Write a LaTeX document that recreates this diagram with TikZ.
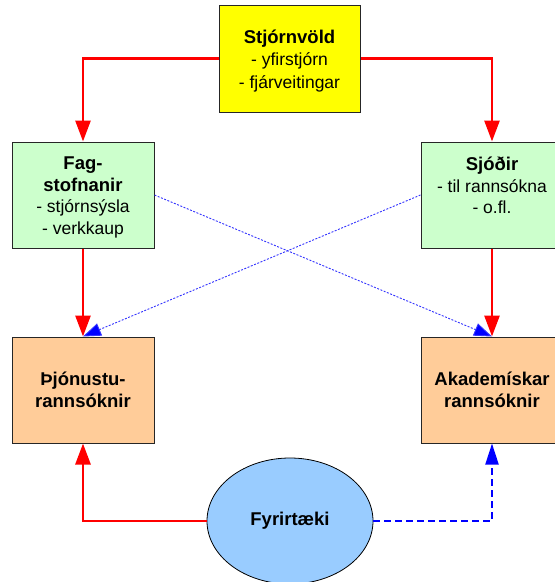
\documentclass[tikz,border=0pt]{standalone}
\usepackage{fontspec}
\setmainfont{Liberation Sans}
\usetikzlibrary{arrows.meta,shapes.geometric}
\definecolor{cyel}{HTML}{FFFF00}
\definecolor{cgreen}{HTML}{CCFFCC}
\definecolor{corange}{HTML}{FFCC99}
\definecolor{cell}{HTML}{99CCFF}
\definecolor{cred}{HTML}{FF0000}
\definecolor{cblue}{HTML}{0000FF}
\definecolor{cedge}{HTML}{262626}
\tikzset{
  box/.style={draw=cedge, line width=1pt, inner sep=0pt, align=center,
    minimum width=142pt, minimum height=106pt},
  txt/.style={inner sep=0pt, align=center, font=\fontsize{17.5}{21.5}\selectfont},
  redarrow/.style={draw=cred, line width=2.7pt, -{Triangle[length=21pt,width=15pt]}},
  bluedot/.style={draw=cblue!80, line width=0.9pt, dash pattern=on 2pt off 1.5pt,
    -{Triangle[length=18pt,width=13pt,fill=cblue]}},
  bluedash/.style={draw=cblue, line width=2pt, dash pattern=on 7pt off 4pt,
    -{Triangle[length=21pt,width=13pt,fill=cblue]}},
  bfont/.style={font=\fontsize{18.5}{21.5}\selectfont\bfseries}
}
\newcommand{\bt}[1]{{\fontsize{18.5}{21.5}\selectfont\bfseries #1}}
\begin{document}
\begin{tikzpicture}[x=1pt,y=-1pt]
\clip (0,0) rectangle (555,582);
\useasboundingbox (0,0) rectangle (555,582);
% boxes
\node[box, fill=cyel, minimum width=141pt, minimum height=107pt] (stj) at (289.5,58.5) {};
\node[txt, font=\fontsize{17.5}{22.5}\selectfont] (stjtxt) at (289.5,61)
  {\bt{Stjórnvöld}\\- yfirstjórn\\- fjárveitingar};
\node[box, fill=cgreen] (fag) at (83,195) {};
\node[txt, anchor=north] (fagtxt) at (83,157) {\bt{Fag-}\\\bt{stofnanir}\\- stjórnsýsla\\- verkkaup};
\node[box, fill=cgreen] (sjod) at (492,195) {};
\node[txt, anchor=north] (sjodtxt) at (492,157) {\bt{Sjóðir}\\- til rannsókna\\- o.fl.};
\node[box, fill=corange, txt] (thjon) at (83,390) {\bt{Þjónustu-}\\\bt{rannsóknir}};
\node[box, fill=corange, txt] (akad) at (492,390) {\bt{Akademískar}\\\bt{rannsóknir}};
\node[ellipse, draw=black, line width=0.8pt, fill=cell, inner sep=0pt,
  minimum width=166pt, minimum height=126pt, bfont] (fyr) at (290,521) {Fyrirtæki};
% connectors
\draw[redarrow] (stj.west) -| (fag.north);
\draw[redarrow] (stj.east) -| (sjod.north);
\draw[redarrow] (fag.south) -- (thjon.north);
\draw[redarrow] (sjod.south) -- (akad.north);
\draw[bluedot] (fag.east) -- (akad.north);
\draw[bluedot] (sjod.west) -- (thjon.north);
\draw[redarrow] (fyr.west) -| (thjon.south);
\draw[bluedash] (fyr.east) -| (akad.south);
\end{tikzpicture}
\end{document}
